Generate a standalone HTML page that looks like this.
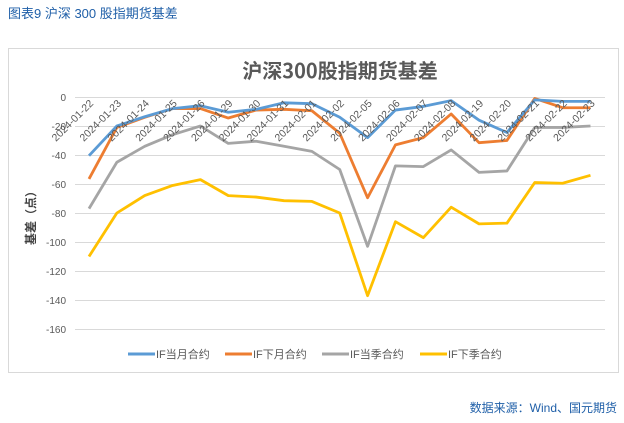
<!DOCTYPE html>
<html><head><meta charset="utf-8"><style>
body{margin:0;width:624px;height:418px;background:#fff;overflow:hidden;font-family:"Liberation Sans","Noto Sans CJK SC",sans-serif}
</style></head><body>
<svg width="624" height="418" viewBox="0 0 624 418" xmlns="http://www.w3.org/2000/svg" font-family="Liberation Sans, Noto Sans CJK SC, sans-serif">
<text x="8" y="18" font-size="13" fill="#1f5fa8">图表9  沪深 300 股指期货基差</text>
<rect x="8.5" y="48.5" width="610" height="324" fill="#fff" stroke="#d9d9d9"/>
<text x="340" y="78" font-size="20" font-weight="bold" fill="#595959" text-anchor="middle" font-family="Noto Sans CJK SC, sans-serif">沪深300股指期货基差</text>
<g stroke="#d9d9d9" stroke-width="1">
<line x1="75" x2="605" y1="97.5" y2="97.5"/><line x1="75" x2="605" y1="126.5" y2="126.5"/><line x1="75" x2="605" y1="155.5" y2="155.5"/><line x1="75" x2="605" y1="184.5" y2="184.5"/><line x1="75" x2="605" y1="213.5" y2="213.5"/><line x1="75" x2="605" y1="242.5" y2="242.5"/><line x1="75" x2="605" y1="271.5" y2="271.5"/><line x1="75" x2="605" y1="300.5" y2="300.5"/><line x1="75" x2="605" y1="329.5" y2="329.5"/>
</g>
<g font-size="10" fill="#595959" text-anchor="end">
<text x="66" y="101">0</text><text x="66" y="130">-20</text><text x="66" y="159">-40</text><text x="66" y="188">-60</text><text x="66" y="217">-80</text><text x="66" y="246">-100</text><text x="66" y="275">-120</text><text x="66" y="304">-140</text><text x="66" y="333">-160</text>
</g>
<text transform="translate(35,215) rotate(-90)" font-size="12" font-weight="bold" fill="#404040" text-anchor="middle">基差（点）</text>
<g id="lines" fill="none" stroke-width="2.8" stroke-linejoin="round"></g>
<g id="xl" font-size="10.5" fill="#595959" text-anchor="end"></g>
<g font-size="11" fill="#595959">
<line x1="128" x2="155" y1="354" y2="354" stroke="#5b9bd5" stroke-width="3"/><text x="156" y="358">IF当月合约</text>
<line x1="225" x2="252" y1="354" y2="354" stroke="#ed7d31" stroke-width="3"/><text x="253" y="358">IF下月合约</text>
<line x1="322" x2="349" y1="354" y2="354" stroke="#a5a5a5" stroke-width="3"/><text x="350" y="358">IF当季合约</text>
<line x1="420" x2="447" y1="354" y2="354" stroke="#ffc000" stroke-width="3"/><text x="448" y="358">IF下季合约</text>
</g>
<text x="617" y="412" font-size="12" fill="#1f5fa8" text-anchor="end">数据来源：Wind、国元期货</text>
</svg>
<script>
var ns="http://www.w3.org/2000/svg";
var dates=["2024-01-22","2024-01-23","2024-01-24","2024-01-25","2024-01-26","2024-01-29","2024-01-30","2024-01-31","2024-02-01","2024-02-02","2024-02-05","2024-02-06","2024-02-07","2024-02-08","2024-02-19","2024-02-20","2024-02-21","2024-02-22","2024-02-23"];
var S=[
["#a5a5a5",[-77,-45,-34,-26,-20,-32,-30.5,-34,-37.5,-50,-103,-47.5,-48,-36.5,-52,-51,-21,-21,-20]],
["#ffc000",[-110,-80,-68,-61,-57,-68,-69,-71.5,-72,-80,-137,-86,-97,-76,-87.5,-87,-59,-59.5,-54]],
["#ed7d31",[-56.5,-21,-14,-8,-8,-14.5,-9,-8.5,-9.5,-25,-69.5,-33,-28,-11.7,-31.5,-30,-1,-7.4,-7.4]],
["#5b9bd5",[-40.5,-20,-13.6,-8,-6,-10.5,-8.5,-4,-4.6,-14,-28,-9,-6.5,-2.5,-16,-24.5,-2,-3,-3]]];
var X=i=>89+i*27.86,Y=v=>97+v*(-1.45);
var g=document.getElementById("lines");
S.forEach(s=>{var p=document.createElementNS(ns,"polyline");p.setAttribute("points",s[1].map((v,i)=>X(i)+","+Y(v)).join(" "));p.setAttribute("stroke",s[0]);g.appendChild(p);});
var xl=document.getElementById("xl");
dates.forEach((d,i)=>{var t=document.createElementNS(ns,"text");var x=X(i)+5,y=104;t.setAttribute("transform","translate("+x+","+y+") rotate(-45)");t.textContent=d;xl.appendChild(t);});
</script>
</body></html>
